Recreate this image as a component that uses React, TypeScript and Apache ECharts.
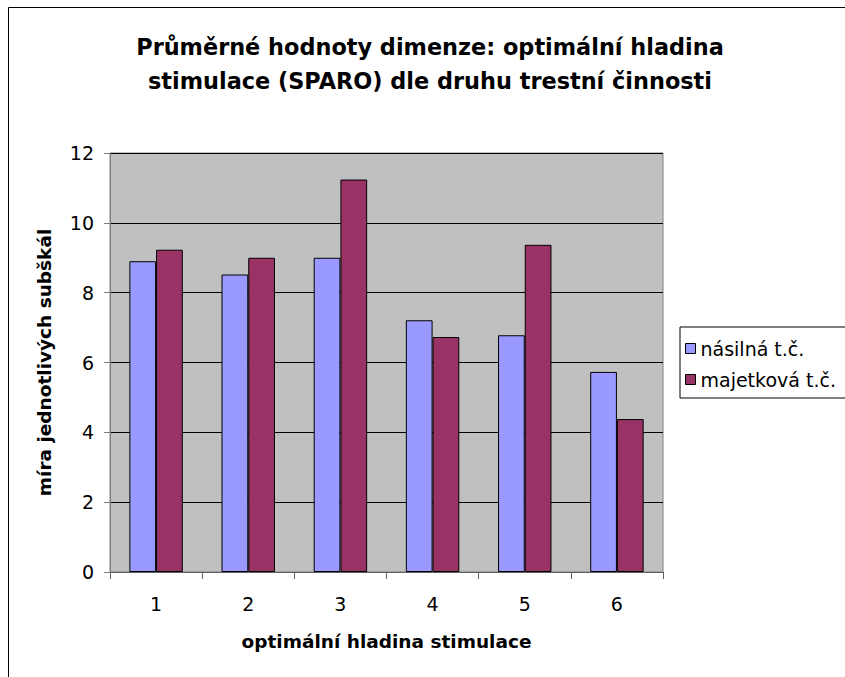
import React, { useEffect, useRef } from "react";
import * as echarts from "echarts";

const categories = ["1", "2", "3", "4", "5", "6"];
const seriesNames = ["násilná t.č.", "majetková t.č."];
const violentValues = [8.9, 8.52, 9.0, 7.21, 6.78, 5.73];
const propertyValues = [9.23, 9.0, 11.24, 6.73, 9.37, 4.38];
const titleText = "Průměrné hodnoty dimenze: optimální hladina\nstimulace (SPARO) dle druhu trestní činnosti";
const xAxisTitle = "optimální hladina stimulace";
const yAxisTitle = "míra jednotlivých subškál";

const FONT = "'DejaVu Sans', 'Liberation Sans', Arial, sans-serif";

export default function App() {
  const ref = useRef<HTMLDivElement>(null);
  useEffect(() => {
    if (!ref.current) return;
    const chart = echarts.init(ref.current, undefined, { renderer: "svg" });
    chart.setOption({
      animation: false,
      backgroundColor: "#ffffff",
      textStyle: { fontFamily: FONT, color: "#000" },
      graphic: [
        {
          type: "rect",
          shape: { x: 8.5, y: 7.5, width: 900, height: 700 },
          style: { fill: "none", stroke: "#000", lineWidth: 1 },
          silent: true,
        },
        {
          type: "text",
          x: 430,
          y: 64,
          silent: true,
          style: {
            text: titleText,
            fontFamily: FONT,
            fontSize: 22.4,
            fontWeight: "bold",
            fill: "#000",
            lineHeight: 34,
            align: "center",
            verticalAlign: "middle",
          },
        },
      ],
      legend: {
        orient: "vertical",
        left: 680,
        top: 327,
        padding: [12, 30, 9, 5],
        itemWidth: 10,
        itemHeight: 10,
        itemGap: 12,
        icon: "rect",
        borderColor: "#000",
        borderWidth: 1,
        itemStyle: { borderColor: "#000", borderWidth: 1 },
        textStyle: { fontFamily: FONT, fontSize: 19, color: "#000" },
        data: seriesNames,
      },
      grid: {
        left: 110,
        top: 153,
        width: 553,
        height: 419,
        show: true,
        backgroundColor: "#C0C0C0",
        borderColor: "#808080",
        borderWidth: 1,
      },
      xAxis: {
        type: "category",
        data: categories,
        boundaryGap: true,
        axisLine: { show: true, lineStyle: { color: "#606060", width: 1 } },
        axisTick: { show: true, length: 7, inside: false, lineStyle: { color: "#606060" } },
        axisLabel: { fontFamily: FONT, fontSize: 19, color: "#000", margin: 22 },
        name: xAxisTitle,
        nameLocation: "middle",
        nameGap: 60,
        nameTextStyle: { fontFamily: FONT, fontSize: 18.5, fontWeight: "bold", color: "#000" },
      },
      yAxis: {
        type: "value",
        min: 0,
        max: 12,
        interval: 2,
        axisLine: { show: true, lineStyle: { color: "#808080", width: 1 } },
        axisTick: { show: true, length: 6, lineStyle: { color: "#808080" } },
        axisLabel: { fontFamily: FONT, fontSize: 19, color: "#000", margin: 16 },
        splitLine: { show: true, lineStyle: { color: "#000", width: 1 } },
        name: yAxisTitle,
        nameLocation: "middle",
        nameRotate: 90,
        nameGap: 56,
        nameTextStyle: { fontFamily: FONT, fontSize: 18.5, fontWeight: "bold", color: "#000" },
      },
      series: [
        {
          name: seriesNames[0],
          type: "bar",
          data: violentValues,
          barGap: "0%",
          barCategoryGap: "42%",
          itemStyle: { color: "#9999FF", borderColor: "#000", borderWidth: 1 },
        },
        {
          name: seriesNames[1],
          type: "bar",
          data: propertyValues,
          barGap: "0%",
          barCategoryGap: "42%",
          itemStyle: { color: "#993366", borderColor: "#000", borderWidth: 1 },
        },
      ],
    });
    return () => chart.dispose();
  }, []);
  return (
    <div
      ref={ref}
      style={{ position: "fixed", left: 0, top: 0, width: 845, height: 677 }}
    />
  );
}
